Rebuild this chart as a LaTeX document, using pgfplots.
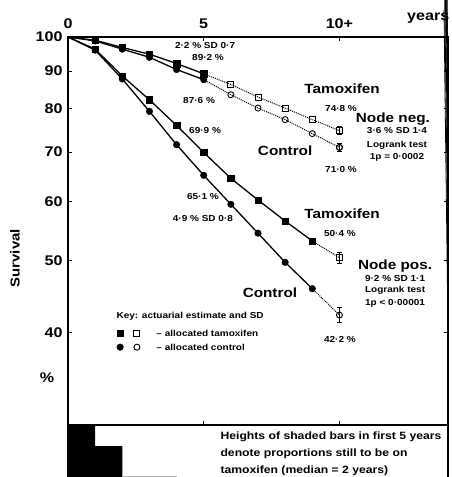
\documentclass[border=0pt]{standalone}
\usepackage{fontspec}
\setmainfont{Liberation Sans}[FakeStretch=1.15]
\usepackage{pgfplots}
\pgfplotsset{compat=1.18}
\newcommand{\sm}{\fontsize{8.7}{10}\selectfont\bfseries}
\newcommand{\bg}{\fontsize{13.3}{15}\selectfont\bfseries}
\newcommand{\tk}{\fontsize{14}{15}\selectfont\bfseries}
\begin{document}
\begin{tikzpicture}
\path[use as bounding box] (0,0) rectangle (452pt,-477pt);
\begin{axis}[
  at={(68pt,-425pt)}, anchor=south west,
  scale only axis, width=380pt, height=388pt,
  xmin=0, xmax=14, ymin=30, ymax=100, ymode=log,
  xtick={0,5,10}, xticklabels={0,5,10+},
  xticklabel pos=right,
  xtick pos=both, ytick pos=both,
  xticklabel style={yshift=5pt},
  ytick={40,50,60,70,80,90,100},
  yticklabels={40,50,60,70,80,90,100},
  yminorticks=false,
  tick label style={font=\tk},
  yticklabel style={xshift=-2pt},
  major tick length=4pt,
  axis line style={line width=1.2pt},
  tick style={line width=0.8pt, black},
  clip=false,
]
% right frame edge
\addplot[black, line width=1.2pt, mark=none] coordinates {(14,30)(14,100)};
% Node negative, tamoxifen
\addplot[black, line width=1.3pt, mark=none] coordinates {(0,100)(1,99)(2,96.8)(3,94.8)(4,92.1)(5,89.2)};
\addplot[black, only marks, mark=square*, mark size=3.2pt] coordinates {(1,99)(2,96.8)(3,94.8)(4,92.1)(5,89.2)};
\addplot[black, densely dotted, line width=1pt, mark=square, mark size=3pt, mark options={solid, fill=white, line width=0.9pt}, mark indices={2,3,4,5,6}] coordinates {(5,89.2)(6,86.3)(7,83.0)(8,80.2)(9,77.4)(10,74.8)};
% Node negative, control
\addplot[black, line width=1.3pt, mark=none] coordinates {(0,100)(1,98.8)(2,96.3)(3,93.9)(4,90.4)(5,87.6)};
\addplot[black, only marks, mark=*, mark size=3.3pt] coordinates {(1,98.8)(2,96.3)(3,93.9)(4,90.4)(5,87.6)};
\addplot[black, densely dotted, line width=1pt, mark=o, mark size=3pt, mark options={solid, fill=white, line width=0.9pt}, mark indices={2,3,4,5,6}] coordinates {(5,87.6)(6,83.6)(7,80.2)(8,77.4)(9,74.1)(10,71.0)};
% Node positive, tamoxifen
\addplot[black, line width=1.3pt, mark=none] coordinates {(0,100)(1,96.3)(2,88.6)(3,82.3)(4,76.0)(5,69.9)(6,64.5)(7,60.3)(8,56.5)(9,53.1)};
\addplot[black, only marks, mark=square*, mark size=3.2pt] coordinates {(1,96.3)(2,88.6)(3,82.3)(4,76.0)(5,69.9)(6,64.5)(7,60.3)(8,56.5)(9,53.1)};
\addplot[black, densely dotted, line width=1pt, mark=none] coordinates {(9,53.1)(10,50.4)};
% Node positive, control
\addplot[black, line width=1.3pt, mark=none] coordinates {(0,100)(1,96.0)(2,87.8)(3,79.4)(4,71.6)(5,65.1)(6,59.5)(7,54.4)(8,49.7)(9,45.8)};
\addplot[black, only marks, mark=*, mark size=3.3pt] coordinates {(1,96.0)(2,87.8)(3,79.4)(4,71.6)(5,65.1)(6,59.5)(7,54.4)(8,49.7)(9,45.8)};
\addplot[black, densely dotted, line width=1pt, mark=none] coordinates {(9,45.8)(10,42.2)};
% year-10 estimates with SD
\addplot[black, only marks, mark=square, mark size=3pt, mark options={fill=white, line width=0.9pt},
  error bars/.cd, y dir=both, y explicit, error bar style={line width=0.8pt}, error mark options={rotate=90, mark size=2.5pt, line width=0.8pt}]
  coordinates {(10,74.8) +- (0,0.9) (10,50.4) +- (0,0.8)};
\addplot[black, only marks, mark=o, mark size=3pt, mark options={fill=white, line width=0.9pt},
  error bars/.cd, y dir=both, y explicit, error bar style={line width=0.8pt}, error mark options={rotate=90, mark size=2.5pt, line width=0.8pt}]
  coordinates {(10,71.0) +- (0,0.9) (10,42.2) +- (0,1.0)};
% key symbols
\addplot[black, only marks, mark=square*, mark size=3.2pt] coordinates {(1.92,39.9)};
\addplot[black, only marks, mark=square, mark size=3pt, mark options={line width=0.9pt}] coordinates {(2.54,39.9)};
\addplot[black, only marks, mark=*, mark size=3.3pt] coordinates {(1.92,38.2)};
\addplot[black, only marks, mark=o, mark size=3pt, mark options={line width=0.9pt}] coordinates {(2.54,38.2)};
% annotations
\node[font=\sm] at (axis cs:5.05,97.5) {2·2 \% SD 0·7};
\node[font=\sm] at (axis cs:5.16,93.7) {89·2 \%};
\node[font=\sm] at (axis cs:4.83,82.0) {87·6 \%};
\node[font=\sm] at (axis cs:5.05,74.9) {69·9 \%};
\node[font=\sm] at (axis cs:4.97,60.9) {65·1 \%};
\node[font=\sm] at (axis cs:4.97,56.9) {4·9 \% SD 0·8};
\node[font=\bg] at (axis cs:10.1,85.1) {Tamoxifen};
\node[font=\sm] at (axis cs:10.06,80.0) {74·8 \%};
\node[font=\bg] at (axis cs:11.97,77.5) {Node neg.};
\node[font=\sm] at (axis cs:12.12,74.9) {3·6 \% SD 1·4};
\node[font=\sm] at (axis cs:12.12,71.5) {Logrank test};
\node[font=\sm] at (axis cs:12.12,68.9) {1p = 0·0002};
\node[font=\bg] at (axis cs:8.0,70.2) {Control};
\node[font=\sm] at (axis cs:10.06,66.2) {71·0 \%};
\node[font=\bg] at (axis cs:10.1,57.7) {Tamoxifen};
\node[font=\sm] at (axis cs:10.02,54.3) {50·4 \%};
\node[font=\bg] at (axis cs:12.05,49.1) {Node pos.};
\node[font=\sm] at (axis cs:12.05,47.2) {9·2 \% SD 1·1};
\node[font=\sm] at (axis cs:12.05,45.5) {Logrank test};
\node[font=\sm] at (axis cs:12.05,43.8) {1p < 0·00001};
\node[font=\bg] at (axis cs:7.44,45.2) {Control};
\node[font=\sm] at (axis cs:10.02,39.1) {42·2 \%};
\node[font=\sm] at (axis cs:4.5,42.1) {Key: actuarial estimate and SD};
\node[font=\sm, anchor=west] at (axis cs:3.13,39.9) {– allocated tamoxifen};
\node[font=\sm, anchor=west] at (axis cs:3.13,38.2) {– allocated control};
\node[font=\tk, anchor=base, yshift=16pt] at (rel axis cs:0.948,1) {years};
\node[font=\fontsize{13}{14}\selectfont\bfseries, xshift=-53pt, rotate=90] at (rel axis cs:0,0.43) {Survival};
\node[font=\tk, xshift=-21pt] at (rel axis cs:0,0.121) {\%};
\draw[black, line width=0.8pt] (axis cs:14,40) -- ++(-4pt,0);
\draw[black, line width=0.8pt] (axis cs:14,50) -- ++(-4pt,0);
\draw[black, line width=0.8pt] (axis cs:14,60) -- ++(-4pt,0);
\draw[black, line width=0.8pt] (axis cs:14,70) -- ++(-4pt,0);
\draw[black, line width=0.8pt] (axis cs:14,80) -- ++(-4pt,0);
\draw[black, line width=0.8pt] (axis cs:14,90) -- ++(-4pt,0);
\end{axis}
\begin{axis}[
  at={(68pt,-477pt)}, anchor=south west,
  scale only axis, width=380pt, height=52pt,
  xmin=0, xmax=14, ymin=0, ymax=52,
  axis x line=none, axis y line=box,
  axis line style={line width=1.2pt},
  xtick=\empty, ytick=\empty,
  clip=false,
]
\addplot[ybar interval, fill=black, draw=none] coordinates {(0,52)(1,31)(2,0)};
\addplot[ybar interval, fill=gray!60, draw=none] coordinates {(2,1.2)(4,1.2)};
\addplot[black, line width=1.2pt, mark=none] coordinates {(14,0)(14,52)};
\node[font=\fontsize{10.6}{12}\selectfont\bfseries, anchor=west] at (axis cs:5.49,40) {Heights of shaded bars in first 5 years};
\node[font=\fontsize{10.6}{12}\selectfont\bfseries, anchor=west] at (axis cs:5.49,23) {denote proportions still to be on};
\node[font=\fontsize{10.6}{12}\selectfont\bfseries, anchor=west] at (axis cs:5.49,6) {tamoxifen (median = 2 years)};
\end{axis}
\end{tikzpicture}
\end{document}
